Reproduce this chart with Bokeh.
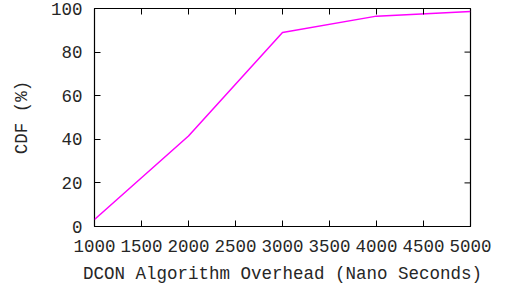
import math
from bokeh.plotting import figure
from bokeh.models import FixedTicker, Range1d
from bokeh.embed import file_html
from bokeh.resources import INLINE

# Data
overhead_ns = [1000, 2000, 3000, 4000, 5000]
cdf_percent = [3.2, 41.5, 89.0, 96.5, 98.6]
x_ticks = [1000, 1500, 2000, 2500, 3000, 3500, 4000, 4500, 5000]
y_ticks = [0, 20, 40, 60, 80, 100]

FONT = "Liberation Mono"
FS = "17.5px"
TXT = "#262626"

x_min, x_max = x_ticks[0], x_ticks[-1]
y_min, y_max = y_ticks[0], y_ticks[-1]

p = figure(width=505, height=287, output_backend="svg", toolbar_location=None,
           x_range=Range1d(x_min, x_max), y_range=Range1d(y_min, y_max),
           min_border_left=94, min_border_right=35, min_border_top=8, min_border_bottom=61)
p.line(overhead_ns, cdf_percent, line_color="#ff00ff", line_width=1.5)

# mirrored inward ticks on the top and right edges (half of each marker is clipped by the frame)
p.scatter(x_ticks, [y_max] * len(x_ticks), marker="dash", size=12, angle=math.pi / 2,
          line_color="black", line_width=1)
p.scatter([x_max] * len(y_ticks), y_ticks, marker="dash", size=12,
          line_color="black", line_width=1)

p.xgrid.visible = False
p.ygrid.visible = False
p.outline_line_color = "black"
p.outline_line_width = 1.2
p.outline_line_alpha = 1.0
p.background_fill_color = "white"
p.border_fill_color = "white"

def style(ax, ticks):
    ax.ticker = FixedTicker(ticks=ticks)
    ax.minor_tick_line_color = None
    ax.major_tick_in = 6
    ax.major_tick_out = 0
    ax.major_tick_line_color = "black"
    ax.major_tick_line_width = 1
    ax.axis_line_color = None
    ax.major_label_text_font = FONT
    ax.major_label_text_color = TXT
    ax.major_label_text_font_size = FS
    ax.axis_label_text_font = FONT
    ax.axis_label_text_font_style = "normal"
    ax.axis_label_text_color = TXT
    ax.axis_label_text_font_size = FS

xa = p.xaxis[0]
ya = p.yaxis[0]
style(xa, x_ticks)
style(ya, y_ticks)
xa.axis_label = "DCON Algorithm Overhead (Nano Seconds)"
ya.axis_label = "CDF (%)"
xa.major_label_standoff = 13
xa.axis_label_standoff = 9
ya.major_label_standoff = 12
ya.axis_label_standoff = 16

open("out.html", "w").write(file_html(p, INLINE))
